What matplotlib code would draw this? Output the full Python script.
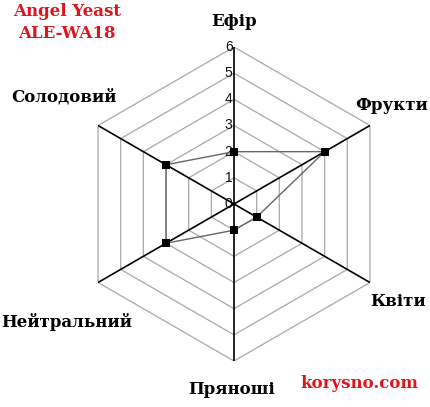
import numpy as np
import matplotlib.pyplot as plt

categories = ['Ефір', 'Фрукти', 'Квіти', 'Пряноші', 'Нейтральний', 'Солодовий']
values = [2, 4, 1, 1, 3, 3]
rings = [1, 2, 3, 4, 5, 6]
tick_labels = ['0', '1', '2', '3', '4', '5', '6']

W, H = 430, 407
fig = plt.figure(figsize=(W / 100, H / 100), dpi=100)
fig.patch.set_facecolor('white')

cx, cy, R = 234, 204, 157
ax = fig.add_axes([(cx - R) / W, (H - cy - R) / H, 2 * R / W, 2 * R / H],
                  projection='polar')
ax.set_theta_offset(np.pi / 2)
ax.set_theta_direction(-1)
ax.set_ylim(0, 6)
ax.grid(False)
ax.spines['polar'].set_visible(False)
ax.set_xticks([])
ax.set_yticks([])
ax.patch.set_alpha(0)

n = len(categories)
theta = np.arange(n) * 2 * np.pi / n
theta_closed = np.append(theta, theta[0])

# hexagon grid
for r in rings:
    ax.plot(theta_closed, [r] * (n + 1), color='#a8a8a8', lw=0.9, zorder=1)

# axis lines through the centre
for t in theta[:3]:
    ax.plot([t, 0, t + np.pi], [6, 0, 6], color='black', lw=1.2, zorder=2)

# value scale along top axis
for i, lab in enumerate(tick_labels):
    ax.annotate(lab, xy=(0, i), xytext=(-1, 0), textcoords='offset points',
                ha='right', va='center', fontsize=10, family='Liberation Sans',
                color='#111111', zorder=3)

# data
vals_closed = values + values[:1]
ax.plot(theta_closed, vals_closed, color='#666666', lw=1.0, zorder=4)
ax.plot(theta, values, 's', color='black', ms=5.5, mew=0, zorder=5)

label_pos = [(234, 22), (392, 106), (398, 302), (232, 390), (67, 322), (64, 97)]
serif = dict(family='DejaVu Serif', fontweight='bold', fontsize=12,
             ha='center', va='center')
for lab, (x, y) in zip(categories, label_pos):
    fig.text(x / W, 1 - y / H, lab, color='black', **serif)

fig.text(67 / W, 1 - 12 / H, 'Angel Yeast', color='#e0141e', **serif)
fig.text(67 / W, 1 - 33 / H, 'ALE-WA18', color='#e0141e', **serif)
fig.text(359 / W, 1 - 384 / H, 'korysno.com', color='#e0141e', **serif)

fig.savefig('out.png', dpi=100)
